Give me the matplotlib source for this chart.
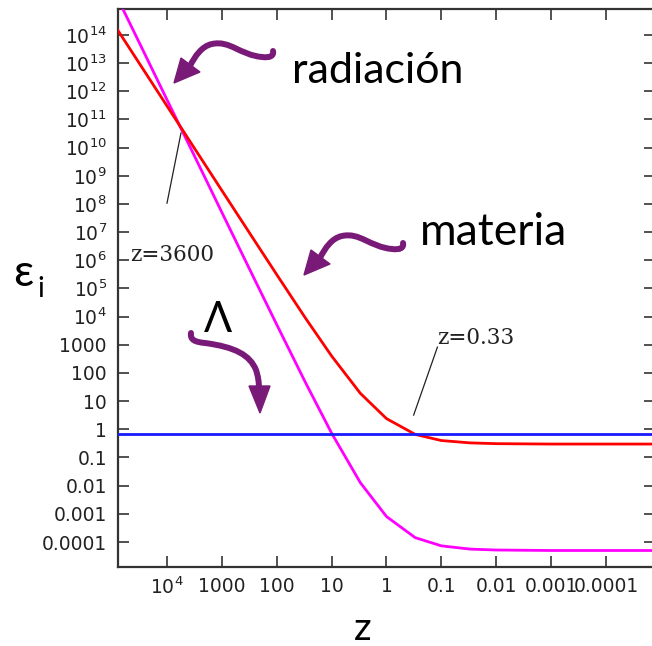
import matplotlib
matplotlib.use('Agg')
import matplotlib.pyplot as plt
from matplotlib.patches import PathPatch, Polygon
from matplotlib.path import Path
import matplotlib.transforms as mtransforms

W, H = 652, 646

# ---- data ----
z = [1e5, 3e4, 1e4, 3e3, 1e3, 300, 100, 30, 10, 3, 1, 0.3, 0.1, 0.03, 0.01, 1e-3, 1e-4, 1e-5]
materia = [3.0e14, 8.1e12, 3.0e11, 8.1e9, 3.0e8, 8.2e6, 3.1e5, 8.9e3, 4.0e2, 19, 2.4, 0.66,
           0.40, 0.33, 0.31, 0.30, 0.30, 0.30]
radiacion = [5.0e15, 4.1e13, 5.0e11, 4.1e9, 5.0e7, 4.1e5, 5.2e3, 46, 0.73, 0.0128, 8.0e-4,
             1.43e-4, 7.3e-5, 5.6e-5, 5.2e-5, 5.0e-5, 5.0e-5, 5.0e-5]
lambda_ = [0.7] * len(z)

xticks = [1e4, 1e3, 100, 10, 1, 0.1, 0.01, 1e-3, 1e-4]
xticklabels = ['$10^4$', '1000', '100', '10', '1', '0.1', '0.01', '0.001', '0.0001']
yticks = [1e14, 1e13, 1e12, 1e11, 1e10, 1e9, 1e8, 1e7, 1e6, 1e5, 1e4, 1e3, 100, 10, 1,
          0.1, 0.01, 1e-3, 1e-4]
yticklabels = ['$10^{14}$', '$10^{13}$', '$10^{12}$', '$10^{11}$', '$10^{10}$', '$10^{9}$',
               '$10^{8}$', '$10^{7}$', '$10^{6}$', '$10^{5}$', '$10^{4}$', '1000', '100', '10',
               '1', '0.1', '0.01', '0.001', '0.0001']

fig = plt.figure(figsize=(W / 100, H / 100), dpi=100)
ax = fig.add_axes([118 / W, (H - 567) / H, (655 - 118) / W, (567 - 9) / H])

ax.plot(z, radiacion, color='#ff00ff', lw=2.0, zorder=3)
ax.plot(z, materia, color='#ff0000', lw=2.0, zorder=4)
ax.plot(z, lambda_, color='#1a1aff', lw=2.0, zorder=5)

ax.set_xscale('log')
ax.set_yscale('log')
ax.set_xlim(10 ** 4.893, 10 ** -4.893)
ax.set_ylim(10 ** -4.887, 10 ** 14.92)
ax.minorticks_off()
ax.set_xticks(xticks)
ax.set_xticklabels(xticklabels)
ax.set_yticks(yticks)
ax.set_yticklabels(yticklabels)
ax.minorticks_off()
ax.tick_params(direction='in', top=True, right=True, length=8, width=1.2,
               color='#333333', labelsize=13.5, labelcolor='#222222')
ax.tick_params(axis='x', pad=7)
ax.tick_params(axis='y', pad=8)
for s in ax.spines.values():
    s.set_linewidth(1.6)
    s.set_color('#333333')

# annotation leader lines and labels
ax.plot([1e4, 5560], [1.07e8, 3.3e10], color='#222222', lw=0.9, zorder=6)
ax.text(10 ** 4.67, 10 ** 6.19, 'z=3600', family='DejaVu Serif', fontsize=15.5,
        ha='left', va='center', color='#222222')
ax.plot([0.32, 0.118], [3.2, 830], color='#222222', lw=0.9, zorder=6)
ax.text(0.118, 10 ** 3.24, 'z=0.33', family='DejaVu Serif', fontsize=15.5,
        ha='left', va='center', color='#222222')

# pixel transform (image coords, y downward)
pix = mtransforms.Affine2D().scale(1 / W, -1 / H).translate(0, 1) + fig.transFigure
sans = ['Lato', 'Open Sans', 'DejaVu Sans']

fig.text(292 / W, 1 - 83 / H, 'radiación', family=sans, fontsize=31, ha='left', va='baseline')
fig.text(420 / W, 1 - 245 / H, 'materia', family=sans, fontsize=32, ha='left', va='baseline')
fig.text(204 / W, 1 - 332 / H, 'Λ', family=sans, fontsize=30, ha='left', va='baseline')
fig.text(354 / W, 1 - 640 / H, 'z', family=sans, fontsize=28, ha='left', va='baseline')
fig.text(13 / W, 1 - 286 / H, 'ε', family=sans, fontsize=32, ha='left', va='baseline')
fig.text(37 / W, 1 - 297 / H, 'i', family=sans, fontsize=20, ha='left', va='baseline')

purple = '#7a1a78'


def curved_arrow(stem, head):
    codes = [Path.MOVETO] + [Path.CURVE4] * (len(stem) - 1)
    fig.add_artist(PathPatch(Path(stem, codes), transform=pix, fill=False, lw=4.3,
                             edgecolor=purple, capstyle='round', joinstyle='round'))
    fig.add_artist(Polygon(head, closed=True, transform=pix, facecolor=purple,
                           edgecolor=purple, lw=1))


stem1 = [(273, 51), (274, 56), (270, 58), (262, 57),
         (240, 55), (230, 40), (212, 44),
         (202, 46), (195, 56), (190, 66)]
head1 = [(174, 83), (181, 58), (200, 72)]
curved_arrow(stem1, head1)
stem2 = [(x + 130, y + 192) for (x, y) in stem1]
head2 = [(x + 130, y + 192) for (x, y) in head1]
curved_arrow(stem2, head2)
stem3 = [(191, 333), (190, 340), (195, 342), (205, 343),
         (235, 347), (250, 355), (256, 370),
         (258, 376), (259, 382), (259, 389)]
head3 = [(260, 413), (249, 386), (270, 386)]
curved_arrow(stem3, head3)

fig.savefig('out.png', dpi=100)
